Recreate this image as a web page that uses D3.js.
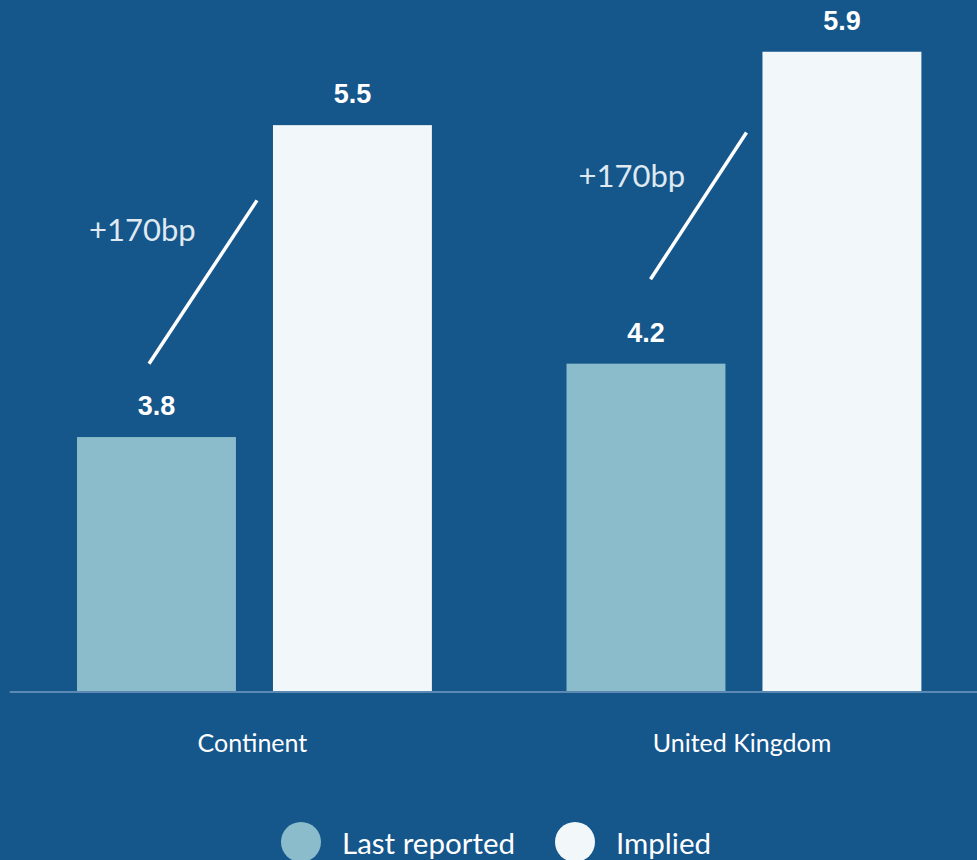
<!DOCTYPE html>
<html>
<head>
<meta charset="utf-8">
<script src="https://cdn.jsdelivr.net/npm/d3@7"></script>
<style>
  html, body { margin: 0; padding: 0; background: #15568b; }
  svg { display: block; }
</style>
</head>
<body>
<div id="chart"></div>
<script>
// chart data
const categories = ["Continent", "United Kingdom"];
const seriesNames = ["Last reported", "Implied"];
const lastReported = [3.8, 4.2];
const implied = [5.5, 5.9];
const changeLabels = ["+170bp", "+170bp"];

// annotation line ends, in value units (bottom, top)
const slashBottom = [4.2, 4.66];
const slashTop = [5.09, 5.46];

const colors = {"Last reported": "#8bbccb", "Implied": "#f2f7fa"};

let width = 977, height = 860;

const svg = d3.select("#chart")
  .append("svg")
    .attr("width", width)
    .attr("height", height);

svg.append("rect")
  .attr("width", width)
  .attr("height", height)
  .attr("fill", "#15568b");

// outer band for categories
let x0 = d3.scaleBand()
  .domain(categories)
  .range([9.7, 988.7])
  .paddingInner(0.275)
  .paddingOuter(0.1375);

// inner band for series
let x1 = d3.scaleBand()
  .domain(seriesNames)
  .range([0, x0.bandwidth()])
  .paddingInner(0.189);

// y axis does not start at zero
let y = d3.scaleLinear()
  .domain([2.416, 6.182])
  .range([691, 0]);

const rows = categories.map(function(c, i) {
  return {cat: c, values: [
    {name: "Last reported", value: lastReported[i]},
    {name: "Implied", value: implied[i]}
  ]};
});

const groups = svg.selectAll(".group")
  .data(rows)
  .enter()
  .append("g")
    .attr("class", "group")
    .attr("transform", function(d) { return "translate(" + x0(d.cat) + ",0)"; });

groups.selectAll("rect")
  .data(function(d) { return d.values; })
  .enter()
  .append("rect")
    .attr("x", function(d) { return x1(d.name); })
    .attr("y", function(d) { return y(d.value); })
    .attr("width", x1.bandwidth())
    .attr("height", function(d) { return y.range()[0] - y(d.value); })
    .attr("fill", function(d) { return colors[d.name]; });

groups.selectAll(".val")
  .data(function(d) { return d.values; })
  .enter()
  .append("text")
    .attr("class", "val")
    .attr("x", function(d) { return x1(d.name) + x1.bandwidth() / 2; })
    .attr("y", function(d) { return y(d.value) - 22; })
    .attr("text-anchor", "middle")
    .attr("fill", "#ffffff")
    .style("font-family", "'Liberation Sans', Arial, sans-serif")
    .style("font-weight", "bold")
    .style("font-size", "27px")
    .text(function(d) { return d3.format(".1f")(d.value); });

// slash annotations between the pair
groups.append("line")
  .attr("x1", function(d, i) { return i === 0 ? 72 : 84; })
  .attr("y1", function(d, i) { return y(slashBottom[i]); })
  .attr("x2", 180)
  .attr("y2", function(d, i) { return y(slashTop[i]); })
  .attr("stroke", "#ffffff")
  .attr("stroke-width", 3.5);

groups.append("text")
  .attr("x", 12)
  .attr("y", function(d, i) { return y(slashTop[i]) + (i === 0 ? 41 : 55); })
  .attr("fill", "#dfe9f1")
  .style("font-family", "Lato, sans-serif")
  .style("font-size", "31px")
  .text(function(d, i) { return changeLabels[i]; });

// baseline
svg.append("line")
  .attr("x1", x0.range()[0])
  .attr("x2", width)
  .attr("y1", y.range()[0] + 1)
  .attr("y2", y.range()[0] + 1)
  .attr("stroke", "#5b89b3")
  .attr("stroke-width", 2);

// category labels
svg.selectAll(".cat")
  .data(categories)
  .enter()
  .append("text")
    .attr("class", "cat")
    .attr("x", function(d) { return x0(d) + x0.bandwidth() / 2 - 2; })
    .attr("y", 752)
    .attr("text-anchor", "middle")
    .attr("fill", "#ffffff")
    .style("font-family", "Lato, sans-serif")
    .style("font-size", "25px")
    .text(function(d) { return d; });

// legend
const legendX = [301, 575];
const legend = svg.selectAll(".legend")
  .data(seriesNames)
  .enter()
  .append("g")
    .attr("class", "legend")
    .attr("transform", function(d, i) { return "translate(" + legendX[i] + ",842)"; });

legend.append("circle")
  .attr("r", 20)
  .attr("fill", function(d) { return colors[d]; });

legend.append("text")
  .attr("x", 41)
  .attr("y", 12)
  .attr("fill", "#ffffff")
  .style("font-family", "Lato, sans-serif")
  .style("font-size", "29.5px")
  .text(function(d) { return d; });
</script>
</body>
</html>
